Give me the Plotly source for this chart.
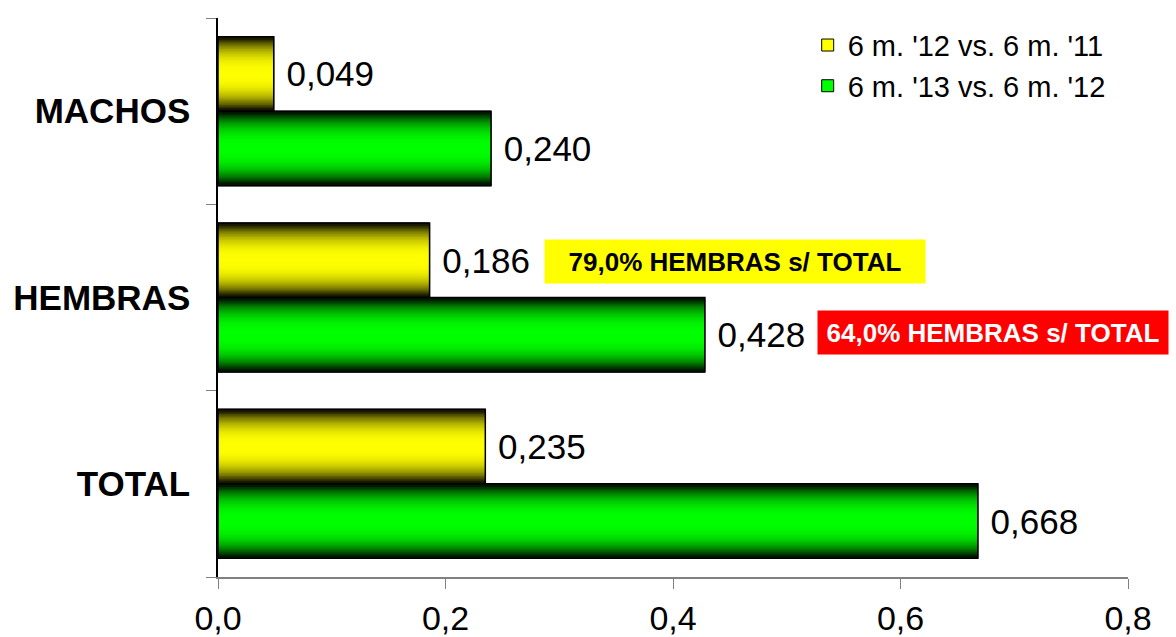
import plotly.graph_objects as go

# ---- data ----
categories = ["MACHOS", "HEMBRAS", "TOTAL"]
series_names = ["6 m. '12 vs. 6 m. '11", "6 m. '13 vs. 6 m. '12"]
vals_12 = [0.049, 0.186, 0.235]
vals_13 = [0.240, 0.428, 0.668]
x_ticks = [0.0, 0.2, 0.4, 0.6, 0.8]
notes = ["79,0% HEMBRAS s/ TOTAL", "64,0% HEMBRAS s/ TOTAL"]

# ---- style ----
BAR_W = 0.4
series = [
    dict(name=series_names[0], vals=vals_12, rgb=(255, 255, 0), offset=0.0),
    dict(name=series_names[1], vals=vals_13, rgb=(0, 255, 0), offset=-BAR_W),
]
N_LAYERS = 24
FONT = "Arial, Liberation Sans, sans-serif"

fig = go.Figure()

for s in series:
    r, g, b = s["rgb"]
    # legend-bearing base bar
    fig.add_trace(go.Bar(
        y=categories, x=s["vals"], orientation="h", name=s["name"],
        width=BAR_W, offset=s["offset"],
        marker=dict(color=f"rgb({r},{g},{b})", line=dict(color="black", width=1)),
        showlegend=True, hoverinfo="skip",
    ))
    # cylinder-like shading: nested bars, dark at edges, bright in the middle
    c_off = s["offset"] + BAR_W / 2
    for k in range(N_LAYERS):
        frac = 1 - k / N_LAYERS
        w = BAR_W * frac
        br = max(0.1, 1 - frac ** 2.6)
        col = f"rgb({int(r*br)},{int(g*br)},{int(b*br)})"
        fig.add_trace(go.Bar(
            y=categories, x=s["vals"], orientation="h",
            width=w, offset=c_off - w / 2,
            marker=dict(color=col, line=dict(width=0)),
            showlegend=False, hoverinfo="skip",
        ))
    # outline + value labels
    fig.add_trace(go.Bar(
        y=categories, x=s["vals"], orientation="h",
        width=BAR_W, offset=s["offset"],
        marker=dict(color="rgba(0,0,0,0)", line=dict(color="black", width=1.5)),
        texttemplate="\u00a0%{x:.3f}", textposition="outside",
        textfont=dict(family=FONT, size=35, color="black"),
        cliponaxis=False, showlegend=False, hoverinfo="skip",
    ))

fig.update_layout(
    width=1176, height=637,
    margin=dict(l=218, r=48, t=18, b=60, autoexpand=False),
    paper_bgcolor="white", plot_bgcolor="white",
    barmode="overlay",
    separators=",.",
    font=dict(family=FONT, color="black"),
    legend=dict(
        x=0.648, y=0.997, xanchor="left", yanchor="top",
        font=dict(family=FONT, size=29, color="black"),
        bgcolor="rgba(0,0,0,0)", traceorder="normal",
        itemclick=False, itemdoubleclick=False,
    ),
    xaxis=dict(
        range=[0, 0.8], tickvals=x_ticks, tickformat=".1f",
        ticks="outside", ticklen=10, tickcolor="#808080",
        showline=True, linecolor="#808080", linewidth=1.5,
        showgrid=False, zeroline=False,
        tickfont=dict(family=FONT, size=34, color="black"),
        ticklabelstandoff=0,
    ),
    yaxis=dict(
        type="category", categoryorder="array",
        categoryarray=categories[::-1], range=[-0.5, 2.5],
        tickson="boundaries", ticks="outside", ticklen=10, tickcolor="#808080",
        showline=True, linecolor="black", linewidth=1.5,
        showgrid=False, zeroline=False,
        tickfont=dict(family=FONT, size=35, color="black", weight="bold"),
        ticklabelstandoff=19,
    ),
    annotations=[
        dict(xref="paper", yref="paper", x=0.5681, y=0.5644,
             xanchor="center", yanchor="middle", showarrow=False,
             text=notes[0], bgcolor="#FFFF00", width=380, height=43, borderpad=0,
             font=dict(family=FONT, size=26, color="black", weight="bold")),
        dict(xref="paper", yref="paper", x=0.8516, y=0.4374,
             xanchor="center", yanchor="middle", showarrow=False,
             text=notes[1], bgcolor="#FF0000", width=350, height=43, borderpad=0,
             font=dict(family=FONT, size=26, color="white", weight="bold")),
    ],
)

fig.write_html("out.html", config={"displayModeBar": False},
               post_script="document.body.style.margin='0';")
